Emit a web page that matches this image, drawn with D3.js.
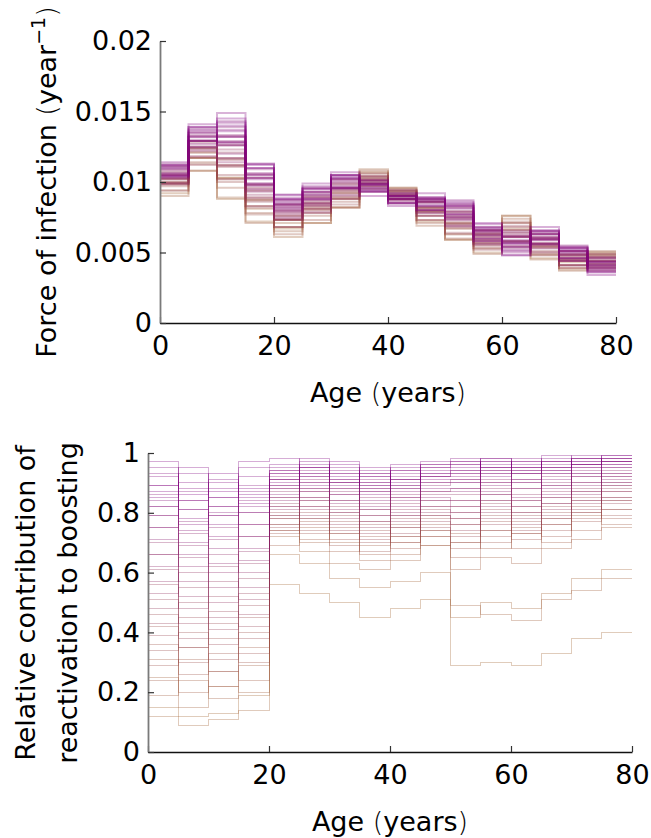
<!DOCTYPE html>
<html lang="en">
<head>
<meta charset="UTF-8">
<title>Force of infection / reactivation by age</title>
<style>
    body { margin: 0; background: #fff; }
    svg text { font-family: "DejaVu Sans", sans-serif; fill: #000; }
    .axis text { font-size: 27px; }
    .yaxis .domain { stroke: #7a7a7a; stroke-width: 1.8; }
    .xaxis .domain { stroke: #111; stroke-width: 1.3; }
    .axis .tick line { stroke: #333; stroke-width: 1.2; }
    .label { font-size: 27px; }
    .paren { font-weight: 200; }
    .crisp { shape-rendering: crispEdges; }
</style>
<script src="https://cdn.jsdelivr.net/npm/d3@7"></script>
</head>
<body>
<script>
// age group edges (years), 16 groups of 5 years
var ageEdges = [0, 5, 10, 15, 20, 25, 30, 35, 40, 45, 50, 55, 60, 65, 70, 75, 80];
var ageTicks = [0, 20, 40, 60, 80];

var foiTicks = [0, 0.005, 0.01, 0.015, 0.02];
var foiTickLabels = ["0", "0.005", "0.01", "0.015", "0.02"];
var reactTicks = [0, 0.2, 0.4, 0.6, 0.8, 1];
var reactTickLabels = ["0", "0.2", "0.4", "0.6", "0.8", "1"];

// colour of each posterior sample: 0 = brown, 1 = purple
var sampleShade = [0.02, 0.05, 0.09, 0.12, 0.15, 0.18, 0.22, 0.25, 0.28, 0.31,
                   0.34, 0.37, 0.40, 0.43, 0.46, 0.49, 0.52, 0.55, 0.58, 0.61,
                   0.64, 0.67, 0.70, 0.72, 0.75, 0.78, 0.80, 0.83, 0.85, 0.88,
                   0.90, 0.92, 0.94, 0.96, 0.97, 0.98, 0.99, 1.00, 0.95, 0.87];

// force of infection per age group (per year), one row per sample
var foiSamples = [
    [.0092,.0117,.0088,.0072,.0067,.0071,.0088,.0107,.0091,.0079,.0059,.0057,.0076,.0046,.0043,.0048],
    [.0100,.0108,.0103,.0081,.0061,.0081,.0082,.0102,.0096,.0072,.0070,.0050,.0066,.0054,.0038,.0050],
    [.0090,.0117,.0089,.0087,.0071,.0071,.0092,.0109,.0094,.0081,.0059,.0059,.0076,.0045,.0046,.0042],
    [.0099,.0108,.0103,.0071,.0065,.0080,.0082,.0103,.0089,.0069,.0067,.0049,.0067,.0056,.0037,.0051],
    [.0102,.0121,.0096,.0083,.0073,.0084,.0089,.0108,.0096,.0079,.0063,.0062,.0074,.0049,.0045,.0044],
    [.0094,.0114,.0111,.0078,.0063,.0076,.0082,.0099,.0093,.0071,.0071,.0053,.0071,.0055,.0039,.0050],
    [.0099,.0124,.0102,.0089,.0073,.0083,.0094,.0106,.0088,.0079,.0060,.0061,.0061,.0048,.0048,.0048],
    [.0097,.0113,.0112,.0077,.0068,.0073,.0086,.0104,.0095,.0073,.0071,.0055,.0072,.0054,.0041,.0040],
    [.0102,.0121,.0100,.0088,.0076,.0082,.0093,.0099,.0090,.0082,.0063,.0064,.0062,.0048,.0045,.0049],
    [.0094,.0117,.0117,.0087,.0068,.0085,.0084,.0106,.0093,.0076,.0075,.0053,.0071,.0056,.0041,.0044],
    [.0106,.0125,.0105,.0082,.0073,.0078,.0092,.0100,.0088,.0082,.0067,.0060,.0058,.0051,.0048,.0047],
    [.0099,.0112,.0116,.0096,.0076,.0087,.0089,.0104,.0094,.0073,.0074,.0052,.0068,.0060,.0039,.0041],
    [.0103,.0124,.0102,.0086,.0068,.0081,.0096,.0097,.0090,.0082,.0064,.0063,.0061,.0050,.0047,.0049],
    [.0098,.0128,.0116,.0094,.0080,.0086,.0088,.0103,.0094,.0076,.0072,.0057,.0069,.0057,.0041,.0042],
    [.0105,.0118,.0121,.0083,.0074,.0078,.0098,.0101,.0088,.0086,.0076,.0063,.0058,.0050,.0048,.0047],
    [.0100,.0124,.0112,.0094,.0079,.0085,.0088,.0097,.0091,.0076,.0068,.0056,.0064,.0059,.0044,.0039],
    [.0107,.0129,.0123,.0098,.0073,.0090,.0096,.0104,.0087,.0082,.0079,.0065,.0058,.0053,.0051,.0045],
    [.0099,.0118,.0111,.0091,.0082,.0081,.0090,.0097,.0094,.0086,.0070,.0055,.0066,.0061,.0044,.0046],
    [.0105,.0129,.0128,.0098,.0078,.0089,.0099,.0102,.0088,.0078,.0078,.0063,.0055,.0055,.0049,.0039],
    [.0099,.0123,.0117,.0089,.0074,.0079,.0094,.0095,.0092,.0085,.0069,.0056,.0064,.0060,.0041,.0046],
    [.0108,.0133,.0126,.0103,.0084,.0089,.0099,.0101,.0088,.0080,.0079,.0066,.0057,.0053,.0049,.0040],
    [.0103,.0122,.0114,.0093,.0077,.0091,.0091,.0101,.0092,.0088,.0069,.0059,.0065,.0063,.0044,.0047],
    [.0111,.0129,.0126,.0099,.0084,.0083,.0102,.0095,.0085,.0078,.0079,.0066,.0053,.0060,.0051,.0037],
    [.0102,.0132,.0133,.0103,.0075,.0089,.0095,.0099,.0091,.0086,.0082,.0058,.0061,.0055,.0045,.0043],
    [.0109,.0125,.0120,.0095,.0084,.0093,.0100,.0096,.0090,.0087,.0075,.0066,.0054,.0063,.0051,.0044],
    [.0104,.0135,.0132,.0106,.0083,.0085,.0102,.0101,.0086,.0080,.0082,.0058,.0062,.0057,.0044,.0038],
    [.0111,.0130,.0129,.0097,.0087,.0092,.0095,.0098,.0091,.0086,.0073,.0068,.0054,.0064,.0050,.0046],
    [.0103,.0125,.0139,.0105,.0079,.0084,.0102,.0093,.0087,.0080,.0084,.0064,.0062,.0056,.0053,.0038],
    [.0109,.0138,.0126,.0109,.0087,.0093,.0101,.0099,.0090,.0089,.0077,.0058,.0054,.0063,.0046,.0044],
    [.0106,.0129,.0137,.0098,.0085,.0088,.0105,.0099,.0085,.0088,.0084,.0067,.0059,.0065,.0053,.0037],
    [.0112,.0136,.0143,.0106,.0080,.0095,.0096,.0093,.0089,.0083,.0074,.0065,.0050,.0059,.0050,.0042],
    [.0105,.0133,.0128,.0110,.0089,.0093,.0104,.0098,.0090,.0089,.0083,.0060,.0061,.0065,.0054,.0036],
    [.0111,.0139,.0142,.0113,.0084,.0097,.0105,.0094,.0085,.0080,.0087,.0068,.0052,.0063,.0046,.0043],
    [.0106,.0129,.0136,.0103,.0088,.0088,.0096,.0098,.0089,.0087,.0077,.0062,.0057,.0056,.0052,.0040],
    [.0114,.0141,.0149,.0113,.0091,.0099,.0107,.0094,.0085,.0092,.0086,.0070,.0048,.0066,.0054,.0036],
    [.0110,.0137,.0140,.0110,.0088,.0096,.0103,.0099,.0088,.0083,.0083,.0060,.0058,.0065,.0046,.0043],
    [.0104,.0132,.0128,.0102,.0082,.0091,.0096,.0090,.0083,.0088,.0075,.0067,.0048,.0059,.0051,.0034],
    [.0112,.0139,.0145,.0112,.0091,.0095,.0105,.0096,.0090,.0089,.0085,.0071,.0056,.0068,.0053,.0041],
    [.0104,.0135,.0132,.0099,.0086,.0087,.0103,.0093,.0088,.0084,.0081,.0065,.0051,.0060,.0048,.0039],
    [.0113,.0127,.0133,.0105,.0081,.0096,.0097,.0101,.0092,.0086,.0077,.0062,.0057,.0061,.0055,.0041]
];

// relative contribution of reactivation to boosting, same samples
var reactSamples = [
    [.15,.12,.13,.19,.56,.53,.50,.45,.48,.51,.29,.30,.29,.33,.38,.40],
    [.12,.09,.11,.14,.66,.63,.58,.55,.57,.60,.45,.50,.48,.53,.58,.61],
    [.25,.15,.22,.20,.72,.67,.63,.61,.64,.69,.49,.46,.44,.51,.54,.58],
    [.19,.24,.18,.29,.74,.70,.70,.64,.66,.72,.61,.65,.63,.68,.71,.75],
    [.31,.20,.27,.24,.69,.75,.67,.69,.72,.69,.70,.68,.73,.70,.79,.76],
    [.24,.31,.22,.35,.76,.71,.73,.66,.70,.74,.65,.74,.68,.76,.74,.81],
    [.36,.26,.33,.30,.73,.77,.69,.72,.68,.76,.73,.70,.75,.72,.80,.78],
    [.29,.35,.27,.40,.78,.73,.75,.67,.75,.72,.68,.77,.71,.78,.77,.84],
    [.42,.30,.38,.33,.74,.78,.71,.74,.70,.78,.76,.72,.77,.74,.82,.79],
    [.34,.40,.31,.45,.79,.74,.77,.70,.76,.74,.70,.79,.73,.80,.78,.85],
    [.46,.35,.43,.38,.75,.80,.73,.76,.72,.79,.78,.74,.79,.76,.84,.81],
    [.39,.45,.36,.49,.80,.76,.79,.71,.78,.75,.72,.81,.74,.82,.80,.87],
    [.51,.38,.47,.42,.76,.82,.74,.77,.73,.81,.80,.76,.80,.78,.85,.83],
    [.43,.50,.41,.53,.82,.78,.80,.73,.79,.77,.74,.83,.76,.83,.81,.88],
    [.56,.43,.52,.46,.78,.84,.76,.79,.75,.82,.82,.78,.82,.79,.87,.84],
    [.48,.55,.45,.58,.83,.79,.82,.75,.81,.79,.76,.84,.78,.85,.83,.89],
    [.61,.48,.57,.51,.79,.85,.78,.81,.77,.84,.84,.80,.84,.81,.88,.85],
    [.53,.60,.50,.63,.85,.81,.84,.77,.83,.80,.78,.86,.80,.87,.84,.90],
    [.66,.52,.62,.55,.81,.87,.80,.83,.79,.86,.86,.82,.86,.83,.90,.87],
    [.57,.65,.55,.67,.87,.82,.86,.79,.85,.82,.80,.88,.82,.89,.86,.92],
    [.70,.57,.66,.60,.82,.88,.81,.85,.80,.87,.88,.84,.88,.85,.92,.89],
    [.62,.69,.60,.72,.88,.84,.87,.81,.86,.84,.82,.90,.84,.90,.87,.93],
    [.75,.62,.71,.64,.84,.90,.83,.87,.82,.89,.90,.86,.90,.86,.93,.90],
    [.66,.73,.63,.76,.89,.85,.88,.82,.88,.85,.84,.91,.85,.92,.89,.94],
    [.79,.66,.75,.68,.85,.91,.84,.88,.84,.90,.91,.87,.91,.88,.94,.91],
    [.71,.77,.68,.80,.91,.87,.90,.84,.89,.87,.87,.93,.88,.93,.90,.95],
    [.82,.70,.79,.72,.86,.93,.86,.90,.85,.92,.93,.89,.93,.89,.95,.92],
    [.75,.81,.72,.84,.92,.88,.91,.86,.91,.88,.88,.94,.90,.94,.92,.96],
    [.86,.74,.82,.76,.88,.94,.88,.91,.87,.93,.94,.90,.94,.91,.96,.93],
    [.79,.84,.76,.87,.93,.89,.93,.87,.92,.90,.90,.95,.91,.96,.93,.97],
    [.89,.78,.85,.80,.89,.95,.89,.92,.88,.94,.96,.92,.95,.93,.97,.95],
    [.82,.87,.79,.89,.94,.90,.94,.88,.93,.91,.91,.97,.93,.97,.95,.98],
    [.92,.81,.88,.83,.90,.96,.90,.93,.89,.95,.97,.93,.97,.94,.98,.96],
    [.85,.90,.82,.92,.95,.92,.95,.89,.94,.92,.93,.98,.94,.97,.96,.98],
    [.95,.84,.91,.86,.91,.97,.91,.94,.90,.96,.98,.95,.98,.95,.99,.97],
    [.87,.93,.85,.95,.96,.93,.96,.90,.95,.93,.94,.97,.95,.98,.96,.99],
    [.97,.86,.93,.88,.93,.98,.92,.95,.91,.97,.97,.95,.97,.95,.98,.97],
    [.89,.95,.87,.97,.98,.95,.97,.92,.96,.95,.95,.98,.96,.99,.97,.99],
    [.93,.88,.90,.85,.94,.95,.93,.93,.94,.96,.96,.96,.95,.97,.98,.98],
    [.84,.76,.80,.82,.91,.92,.90,.89,.91,.92,.92,.94,.93,.95,.96,.97]
];

var width = 651, height = 838;

var svg = d3.select("body").append("svg")
    .attr("width", width)
    .attr("height", height);

var shadeColor = d3.scaleLinear()
    .domain([0, 1])
    .range(["#a0612b", "#800080"])
    .interpolate(d3.interpolateRgb);

// step curve: each value holds from its left edge to the next edge
function stepPoints(values) {
    var pts = values.map(function(v, i) { return [ageEdges[i], v]; });
    pts.push([ageEdges[ageEdges.length - 1], values[values.length - 1]]);
    return pts;
}

function drawPanel(p) {
    var x = d3.scaleLinear().domain([0, 80]).range([p.left, p.right]);
    var y = d3.scaleLinear().domain(p.domain).range([p.bottom, p.top]);

    var line = d3.line()
        .x(function(d) { return x(d[0]); })
        .y(function(d) { return y(d[1]); })
        .curve(d3.curveStepAfter);

    svg.append("g")
        .attr("class", p.crisp ? "crisp" : null)
        .selectAll("path")
        .data(p.samples)
        .enter()
        .append("path")
        .attr("d", function(d) { return line(stepPoints(d)); })
        .attr("fill", "none")
        .attr("stroke", function(d, i) { return shadeColor(sampleShade[i]); })
        .attr("stroke-opacity", p.opacity)
        .attr("stroke-width", p.lineWidth);

    svg.append("g")
        .attr("class", "axis xaxis")
        .attr("transform", "translate(0," + p.bottom + ")")
        .call(d3.axisBottom(x).tickValues(ageTicks).tickFormat(d3.format("d"))
            .tickSizeInner(-6).tickSizeOuter(0).tickPadding(13));

    svg.append("g")
        .attr("class", "axis yaxis")
        .attr("transform", "translate(" + p.left + ",0)")
        .call(d3.axisLeft(y).tickValues(p.ticks)
            .tickFormat(function(d, i) { return p.tickLabels[i]; })
            .tickSizeInner(-6).tickSizeOuter(0).tickPadding(8));

    svg.selectAll(".axis text").attr("font-family", null).attr("font-size", null);

    // x label
    var xl = svg.append("text")
        .attr("class", "label")
        .attr("x", (p.left + p.right) / 2)
        .attr("y", p.bottom + 79)
        .attr("text-anchor", "middle");
    xl.append("tspan").text("Age ");
    xl.append("tspan").attr("class", "paren").text("(");
    xl.append("tspan").text("years");
    xl.append("tspan").attr("class", "paren").text(")");
}

// top panel: dense bands
drawPanel({
    left: 160, right: 616, top: 41, bottom: 323,
    domain: [0, 0.02], ticks: foiTicks, tickLabels: foiTickLabels,
    samples: foiSamples, opacity: 0.3, lineWidth: 2, crisp: false
});

// bottom panel: thin separate lines
drawPanel({
    left: 148, right: 632, top: 453, bottom: 752,
    domain: [0, 1], ticks: reactTicks, tickLabels: reactTickLabels,
    samples: reactSamples, opacity: 0.32, lineWidth: 1, crisp: true
});

// y labels
var yl1 = svg.append("text")
    .attr("class", "label")
    .attr("text-anchor", "middle")
    .attr("transform", "translate(56,182) rotate(-90)");
yl1.append("tspan").text("Force of infection ");
yl1.append("tspan").attr("class", "paren").text("(");
yl1.append("tspan").text("year");
yl1.append("tspan").attr("dy", -11).attr("font-size", 19).text("\u22121");
yl1.append("tspan").attr("dy", 11).attr("class", "paren").text(")");

svg.append("text")
    .attr("class", "label")
    .attr("text-anchor", "middle")
    .attr("transform", "translate(35,603) rotate(-90)")
    .text("Relative contribution of");

svg.append("text")
    .attr("class", "label")
    .attr("text-anchor", "middle")
    .attr("transform", "translate(77,603) rotate(-90)")
    .text("reactivation to boosting");
</script>
</body>
</html>
